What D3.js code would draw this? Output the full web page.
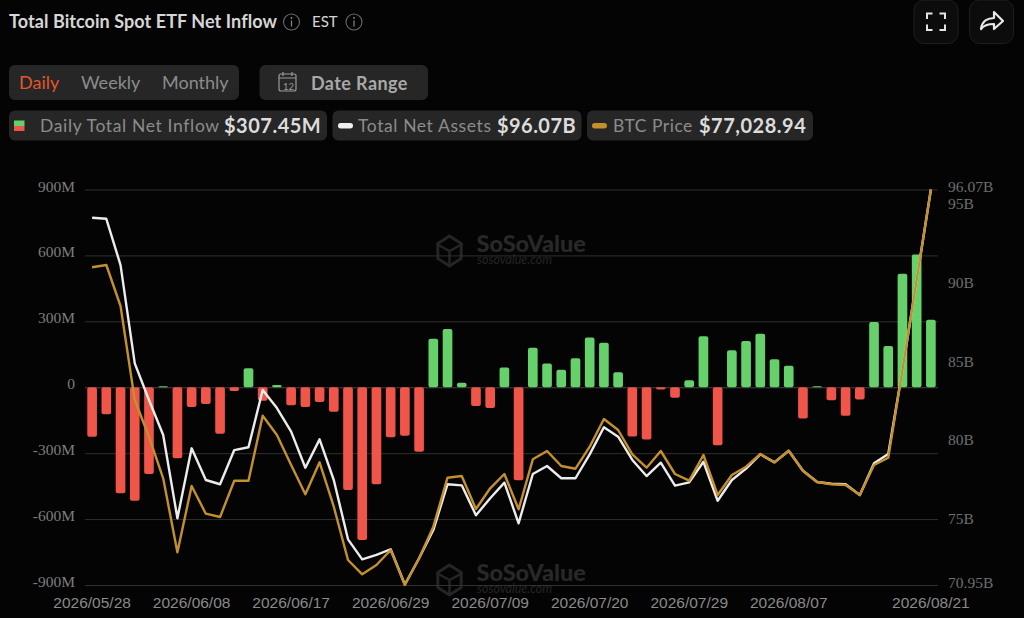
<!DOCTYPE html>
<html>
<head>
<meta charset="utf-8">
<script src="https://cdn.jsdelivr.net/npm/d3@7"></script>
<style>
html,body{margin:0;padding:0;background:#000;overflow:hidden}
svg{display:block}
text{font-family:Lato,sans-serif}
</style>
</head>
<body>
<script>
// trading days shown on the chart
var dates = ["2026/05/28","2026/05/29","2026/06/01","2026/06/02","2026/06/03","2026/06/04","2026/06/05","2026/06/08","2026/06/09","2026/06/10",
"2026/06/11","2026/06/12","2026/06/15","2026/06/16","2026/06/17","2026/06/18","2026/06/22","2026/06/23","2026/06/24","2026/06/25",
"2026/06/26","2026/06/29","2026/06/30","2026/07/01","2026/07/02","2026/07/06","2026/07/07","2026/07/08","2026/07/09","2026/07/10",
"2026/07/13","2026/07/14","2026/07/15","2026/07/16","2026/07/17","2026/07/20","2026/07/21","2026/07/22","2026/07/23","2026/07/24",
"2026/07/27","2026/07/28","2026/07/29","2026/07/30","2026/07/31","2026/08/03","2026/08/04","2026/08/05","2026/08/06","2026/08/07",
"2026/08/10","2026/08/11","2026/08/12","2026/08/13","2026/08/14","2026/08/17","2026/08/18","2026/08/19","2026/08/20","2026/08/21"];

// millions of dollars
var netInflow = [-225,-123,-482,-517,-395,5,-323,-90,-76,-212,
-17,86,-62,10,-82,-90,-67,-112,-468,-695,
-442,-228,-221,-294,221,265,20,-85,-94,90,
-423,180,108,80,132,226,203,68,-224,-238,
-10,-48,32,232,-264,168,210,244,127,98,
-142,5,-59,-130,-56,297,188,517,604,307.45];

// billions of dollars
var netAssets = [94.28,94.21,91.27,85.03,82.70,80.48,75.19,79.63,77.62,77.35,
79.52,79.70,83.34,82.19,80.69,78.40,80.20,77.62,73.85,72.58,
72.86,73.22,70.98,72.65,74.44,77.35,77.28,75.38,76.46,77.45,
74.87,78.00,78.51,77.73,77.73,79.25,80.97,80.37,78.89,77.87,
78.72,77.26,77.47,78.78,76.30,77.62,78.34,79.25,78.74,79.48,
78.21,77.49,77.38,77.35,76.67,78.68,79.27,84.61,90.32,96.07];

// dollars, the price axis is hidden on the chart
var btcPrice = [73139,73254,71204,66504,64669,62589,58889,62204,60819,60654,
62469,62469,65719,64754,63254,61789,63389,61169,58504,57789,
58254,59004,57254,58589,60169,62619,62704,61054,62089,62804,
61039,63539,63954,63204,63069,64169,65554,65004,63789,63119,
63954,62804,62469,63754,61754,62754,63169,63804,63389,63969,
62969,62404,62289,62254,61754,63254,63619,68004,72504,77028.94];

var inflowTicks = [-900,-600,-300,0,300,600,900];
var assetTicks = [70.95,75,80,85,90,95,96.07];
var dateTicks = ["2026/05/28","2026/06/08","2026/06/17","2026/06/29","2026/07/09","2026/07/20","2026/07/29","2026/08/07","2026/08/21"];

var w = 1024, h = 618;
var plotLeft = 85, plotRight = 938, plotTop = 189.5, plotBottom = 585;

var svg = d3.select("body").append("svg").attr("width", w).attr("height", h);
svg.append("rect").attr("width", w).attr("height", h).attr("fill", "#040404");

var x = d3.scaleBand().domain(dates).range([plotLeft, plotRight]).paddingInner(0.32).paddingOuter(0.16);
var yInflow = d3.scaleLinear().domain([-900, 900]).range([plotBottom, plotTop]);
var yAssets = d3.scaleLinear().domain([70.95, 96.07]).range([plotBottom, plotTop]);
var yPrice = d3.scaleLinear().domain([57254, 77028.94]).range([plotBottom, plotTop]);

// watermarks
function watermark(cx, cy) {
    var g = svg.append("g").attr("transform", "translate(" + cx + "," + cy + ")");
    var hex = d3.range(6).map(function(i) {
        var a = Math.PI / 3 * i - Math.PI / 2;
        return [13.5 * Math.cos(a), 15 * Math.sin(a)];
    });
    g.append("path").attr("d", d3.line()(hex) + "Z").attr("fill", "none").attr("stroke", "#252525").attr("stroke-width", 3);
    g.append("path").attr("d", "M-13,-7L0,0L13,-7M0,0V14").attr("fill", "none").attr("stroke", "#252525").attr("stroke-width", 2.5);
    g.append("text").attr("x", 27).attr("y", 1).attr("font-size", "23.5px").attr("font-weight", 900).attr("fill", "#282828").text("SoSoValue");
    g.append("text").attr("x", 27.5).attr("y", 13).attr("font-size", "12.5px").attr("font-style", "italic").attr("fill", "#242424").text("sosovalue.com");
}
watermark(449.5, 251);
watermark(449.5, 580);

// grid and left axis
var axisL = svg.append("g").attr("transform", "translate(" + plotLeft + ",0)")
    .call(d3.axisLeft(yInflow).tickValues(inflowTicks).tickSize(0).tickPadding(10)
        .tickFormat(function(d) { return d === 0 ? "0" : d + "M"; }));
axisL.select(".domain").remove();
axisL.selectAll("text").attr("font-size", "15.5px").attr("fill", "#7d7d7d")
    .style("font-family", "'Liberation Serif',serif").attr("dy", "0.1em");
axisL.selectAll(".tick").append("line").attr("x2", plotRight - plotLeft)
    .attr("stroke", function(d) { return d === 0 ? "#444" : "#303030"; }).attr("stroke-width", 1);

// right axis
var axisR = svg.append("g").attr("transform", "translate(" + (plotRight + 10) + ",0)")
    .call(d3.axisRight(yAssets).tickValues(assetTicks).tickSize(0).tickPadding(0)
        .tickFormat(function(d) { return d + "B"; }));
axisR.select(".domain").remove();
axisR.selectAll("text").attr("font-size", "15.5px").attr("fill", "#6e6e6e")
    .style("font-family", "'Liberation Serif',serif").attr("dy", "0.15em");

// bottom axis
var axisB = svg.append("g").attr("transform", "translate(0," + plotBottom + ")")
    .call(d3.axisBottom(x).tickValues(dateTicks).tickSize(0).tickPadding(12));
axisB.select(".domain").remove();
axisB.selectAll("text").attr("font-size", "15.5px").attr("fill", "#8a8a8a")
    .style("font-family", "'Liberation Sans',sans-serif");

// bars
svg.selectAll("rect.bar").data(netInflow).enter().append("rect").attr("class", "bar")
    .attr("x", function(d, i) { return x(dates[i]); })
    .attr("width", x.bandwidth())
    .attr("y", function(d) { return d > 0 ? yInflow(d) : yInflow(0); })
    .attr("height", function(d) { return Math.abs(yInflow(d) - yInflow(0)); })
    .attr("rx", 2)
    .attr("fill", function(d) { return d > 0 ? "#66d06a" : "#ef5548"; });

// lines
var lineAssets = d3.line()
    .x(function(d, i) { return x(dates[i]) + x.bandwidth() / 2; })
    .y(function(d) { return yAssets(d); });
var linePrice = d3.line()
    .x(function(d, i) { return x(dates[i]) + x.bandwidth() / 2; })
    .y(function(d) { return yPrice(d); });
svg.append("path").attr("d", lineAssets(netAssets)).attr("fill", "none").attr("stroke", "#ececec").attr("stroke-width", 2.4).attr("stroke-linejoin", "round");
svg.append("path").attr("d", linePrice(btcPrice)).attr("fill", "none").attr("stroke", "#c3902c").attr("stroke-width", 2.4).attr("stroke-linejoin", "round");

// header
function label(px, py, str, size, weight, color, spacing) {
    return svg.append("text").attr("x", px).attr("y", py).attr("font-size", size + "px")
        .attr("font-weight", weight).attr("fill", color).attr("letter-spacing", spacing || 0).text(str);
}
function infoIcon(cx, cy) {
    svg.append("circle").attr("cx", cx).attr("cy", cy).attr("r", 8).attr("fill", "none").attr("stroke", "#6a6a6a").attr("stroke-width", 1.1);
    svg.append("line").attr("x1", cx).attr("x2", cx).attr("y1", cy - 1.5).attr("y2", cy + 4.5).attr("stroke", "#8a8a8a").attr("stroke-width", 1.2);
    svg.append("circle").attr("cx", cx).attr("cy", cy - 4).attr("r", 0.9).attr("fill", "#8a8a8a");
}
function pill(px, py, pw, ph, r, fill, stroke) {
    svg.append("rect").attr("x", px).attr("y", py).attr("width", pw).attr("height", ph).attr("rx", r)
        .attr("fill", fill).attr("stroke", stroke || "none");
}

label(9, 28, "Total Bitcoin Spot ETF Net Inflow", 18, 700, "#d6d6d6", 0.07);
infoIcon(291.5, 22);
label(312, 27, "EST", 15, 400, "#d6d6d6");
infoIcon(354, 22);

pill(914, 0, 44, 43.5, 10, "#0c0c0c", "#1e1e1e");
pill(969.5, 0, 44, 43.5, 10, "#0c0c0c", "#1e1e1e");
svg.append("path").attr("fill", "none").attr("stroke", "#e4e4e4").attr("stroke-width", 2)
    .attr("d", "M927,19v-5.5h5.5M939.5,13.5h5.5v5.5M945,24.5v5.5h-5.5M932.5,30h-5.5v-5.5");
svg.append("path").attr("fill", "none").attr("stroke", "#e8e8e8").attr("stroke-width", 2.2).attr("stroke-linejoin", "round")
    .attr("d", "M981,29c1,-8 7,-11 13,-11v-6l9,9l-9,8v-5c-6,0 -10,1 -13,5z");

pill(9, 65, 230, 35, 6, "#262626");
label(19, 89, "Daily", 18, 400, "#e0562c");
label(81, 89, "Weekly", 18, 400, "#8c8c8c");
label(162, 89, "Monthly", 18, 400, "#8c8c8c");

pill(259.5, 65, 168.5, 35, 6, "#262626");
svg.append("rect").attr("x", 279).attr("y", 74).attr("width", 17).attr("height", 17).attr("rx", 2)
    .attr("fill", "none").attr("stroke", "#9a9a9a").attr("stroke-width", 1.2);
svg.append("path").attr("stroke", "#9a9a9a").attr("stroke-width", 1.2).attr("d", "M279,78h17M283,72v4M292,72v4");
label(283, 90, "12", 9.5, 400, "#9a9a9a");
label(311, 89.5, "Date Range", 18, 700, "#a8a8a8", 0.4);

pill(9, 110.5, 318, 30, 6, "#262626");
svg.append("rect").attr("x", 14).attr("y", 120.5).attr("width", 10.5).attr("height", 5.5).attr("fill", "#66d06a");
svg.append("rect").attr("x", 14).attr("y", 126).attr("width", 10.5).attr("height", 5).attr("fill", "#ef5548");
label(40, 132, "Daily Total Net Inflow", 17.5, 400, "#8c8c8c", 0.65);
label(224, 132.5, "$307.45M", 20, 700, "#dcdcdc", 0.5);

pill(332.5, 110.5, 249, 30, 6, "#262626");
svg.append("rect").attr("x", 338).attr("y", 123).attr("width", 15).attr("height", 5.5).attr("rx", 2.7).attr("fill", "#f0f0f0");
label(358, 132, "Total Net Assets", 17.5, 400, "#8c8c8c", 0.6);
label(497, 132.5, "$96.07B", 20, 700, "#dcdcdc", 0.45);

pill(587, 110.5, 226, 30, 6, "#262626");
svg.append("rect").attr("x", 592).attr("y", 123).attr("width", 15).attr("height", 5.5).attr("rx", 2.7).attr("fill", "#c3902c");
label(613, 132, "BTC Price", 17.5, 400, "#8c8c8c", 0.5);
label(699, 132.5, "$77,028.94", 20, 700, "#dcdcdc", 0.5);
</script>
</body>
</html>
